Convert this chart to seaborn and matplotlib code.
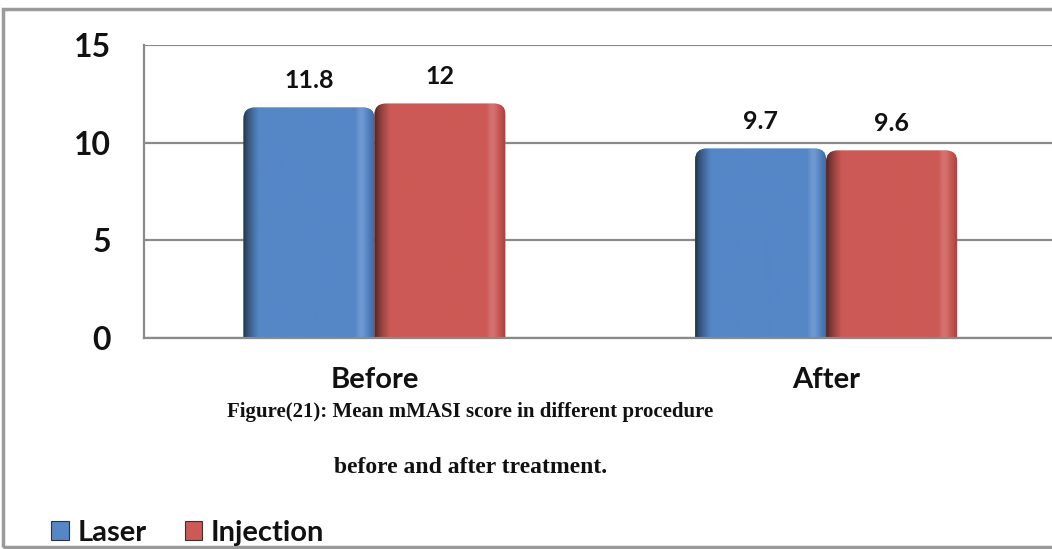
import matplotlib
matplotlib.use("Agg")
import matplotlib.pyplot as plt
import seaborn as sns
import pandas as pd
import numpy as np
from matplotlib.patches import Rectangle, Patch, FancyBboxPatch
from matplotlib.colors import to_rgb
from matplotlib.ticker import FixedLocator

categories = ["Before", "After"]
laser = [11.8, 9.7]
injection = [12, 9.6]
series_names = ["Laser", "Injection"]
value_labels = ["11.8", "9.7", "12", "9.6"]
y_ticks = [0, 5, 10, 15]

df = pd.DataFrame({
    "Time": categories * 2,
    "Score": laser + injection,
    "Procedure": [series_names[0]] * 2 + [series_names[1]] * 2,
})

sns.set_theme(style="white")
plt.rcParams["font.family"] = ["Lato", "DejaVu Sans"]

colors = {"Laser": "#5586C6", "Injection": "#CC5955"}

fig = plt.figure(figsize=(10.52, 5.49), dpi=100)
fig.patch.set_facecolor("white")
ax_pos = [0.137, 0.384, 0.863, 0.534]
ax = fig.add_axes(ax_pos)

sns.barplot(data=df, x="Time", y="Score", hue="Procedure", order=categories,
            hue_order=series_names, palette=colors, width=0.58, gap=0.0,
            saturation=1, legend=False, ax=ax, zorder=3)

xlim = (-0.51, 1.5)
ylim = (0, 15)
ax.set_ylim(*ylim)
ax.set_xlim(*xlim)

# pixel scale for rounded corners
px_x = ax_pos[2] * 1052 / (xlim[1] - xlim[0])
px_y = ax_pos[3] * 549 / (ylim[1] - ylim[0])
r_px = 11
rx = r_px / px_x
ry = r_px / px_y

t = np.linspace(0, 1, 200)
prof = np.ones_like(t)
left = t < 0.12
prof[left] = 0.35 + 0.65 * (t[left] / 0.12) ** 0.7
hl = (t > 0.86) & (t < 0.95)
prof[hl] = 1.0 + 0.06 * np.sin((t[hl] - 0.86) / 0.09 * np.pi)
rt = t >= 0.95
prof[rt] = 1.0 - 0.2 * (t[rt] - 0.95) / 0.05

for i, cont in enumerate(ax.containers):
    base = np.array(to_rgb(colors[series_names[i]]))
    for p in cont:
        x, w, h = p.get_x(), p.get_width(), p.get_height()
        p.set_visible(False)
        fb = FancyBboxPatch((x, -ry), w, h + ry,
                            boxstyle=f"round,pad=0,rounding_size={rx}",
                            mutation_aspect=ry / rx, facecolor=base,
                            edgecolor="none", zorder=3, clip_on=True)
        ax.add_patch(fb)
        img = np.clip(base[None, :] * prof[:, None], 0, 1)
        img = np.where(prof[:, None] > 1, base[None, :] + (1 - base[None, :]) * (prof[:, None] - 1) * 2.5, img)
        img = np.clip(img, 0, 1)[None, :, :]
        im = ax.imshow(img, extent=[x, x + w, -ry, h], aspect="auto",
                       interpolation="bilinear", zorder=3.5, origin="lower")
        im.set_clip_path(fb)

labels_by_container = [value_labels[0:2], value_labels[2:4]]
for cont, labs in zip(ax.containers, labels_by_container):
    ax.bar_label(cont, labels=labs, padding=11, fontsize=18, fontweight="bold",
                 color="#111111")

ax.set_ylim(*ylim)
ax.set_xlim(*xlim)
ax.set_aspect("auto")
ax.set_yticks(y_ticks)
ax.set_yticklabels([str(v) for v in y_ticks])
ax.yaxis.grid(True, color="#8a8a8a", linewidth=1.6, zorder=0)
ax.set_axisbelow(True)
ax.set_xlabel("")
ax.set_ylabel("")

for s in ["top", "right"]:
    ax.spines[s].set_visible(False)
for s in ["left", "bottom"]:
    ax.spines[s].set_color("#8a8a8a")
    ax.spines[s].set_linewidth(1.6)
    ax.spines[s].set_zorder(5)

ax.tick_params(axis="y", length=0, pad=24, labelsize=23)
ax.tick_params(axis="x", which="major", length=0, pad=21, labelsize=21)
ax.xaxis.set_minor_locator(FixedLocator([-0.5, 0.5, 1.5]))
ax.tick_params(axis="x", which="minor", length=7, width=1.6, color="#8a8a8a",
               direction="out")
for lab in ax.get_xticklabels() + ax.get_yticklabels():
    lab.set_fontweight("bold")
    lab.set_color("#111111")

# caption
fig.text(0.447, 0.249, "Figure(21): Mean mMASI score in different procedure",
         ha="center", va="center", fontsize=15, fontweight="bold",
         family=["Liberation Serif"], color="#111111")
fig.text(0.447, 0.149, "before and after treatment.",
         ha="center", va="center", fontsize=17, fontweight="bold",
         family=["Liberation Serif"], color="#111111")

# legend
handles = [Patch(facecolor=colors[n], edgecolor="#333333", linewidth=0.8) for n in series_names]
leg = fig.legend(handles, series_names, loc="lower left", bbox_to_anchor=(0.024, -0.042),
                 ncol=2, frameon=False, fontsize=21, handlelength=0.6, handleheight=0.6,
                 handletextpad=0.3, columnspacing=1.3)
for tx in leg.get_texts():
    tx.set_fontweight("bold")
    tx.set_color("#111111")

# outer frame
fig.patches.append(Rectangle((0.003, 0.004), 1.2, 0.98, transform=fig.transFigure,
                             fill=False, edgecolor="#9a9a9a", linewidth=2.5))

fig.savefig("out.png", dpi=100)
